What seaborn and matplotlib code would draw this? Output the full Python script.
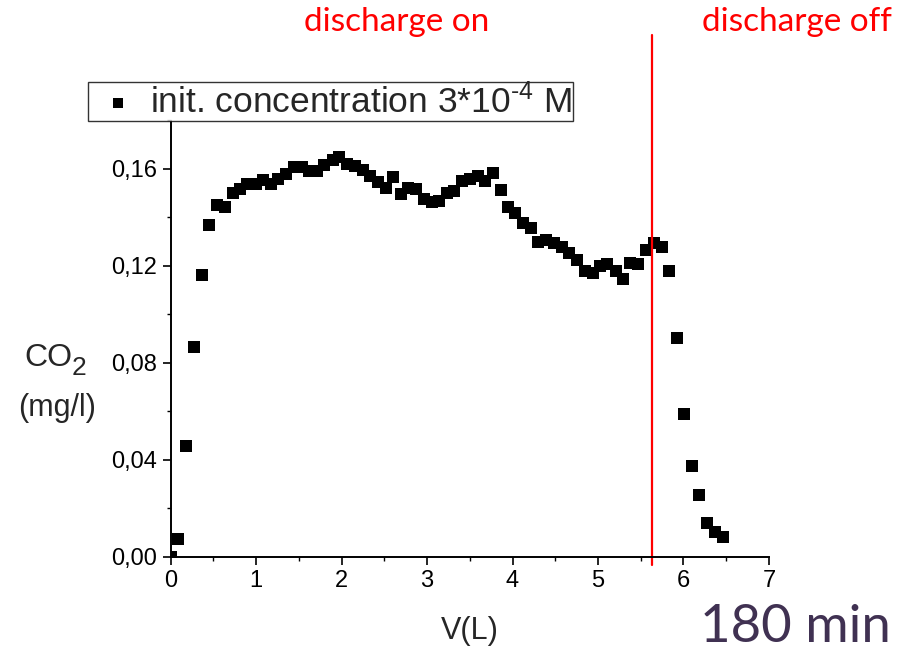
import numpy as np
import pandas as pd
import matplotlib
matplotlib.use("Agg")
import matplotlib.pyplot as plt
from matplotlib.ticker import MultipleLocator, FuncFormatter
import seaborn as sns

# Treated volume (L) and dissolved CO2 (mg/l)
volume = [0.000, 0.088, 0.181, 0.275, 0.365, 0.454, 0.540, 0.637, 0.727, 0.813,
          0.898, 0.996, 1.085, 1.175, 1.261, 1.351, 1.444, 1.535, 1.623, 1.710,
          1.799, 1.897, 1.974, 2.061, 2.158, 2.248, 2.333, 2.423, 2.517, 2.606,
          2.692, 2.781, 2.871, 2.965, 3.055, 3.144, 3.230, 3.319, 3.413, 3.503,
          3.593, 3.678, 3.768, 3.860, 3.951, 4.029, 4.126, 4.216, 4.302, 4.392,
          4.485, 4.575, 4.664, 4.751, 4.848, 4.938, 5.023, 5.109, 5.211, 5.296,
          5.374, 5.471, 5.561, 5.655, 5.745, 5.834, 5.920, 6.009, 6.099, 6.185,
          6.278, 6.368, 6.458]
co2 = [0.0000, 0.0072, 0.0456, 0.0865, 0.1162, 0.1369, 0.1451, 0.1444, 0.1502, 0.1516,
       0.1537, 0.1537, 0.1555, 0.1537, 0.1559, 0.1578, 0.1609, 0.1607, 0.1593, 0.1593,
       0.1616, 0.1637, 0.1651, 0.1621, 0.1612, 0.1596, 0.1571, 0.1548, 0.1520, 0.1566,
       0.1497, 0.1520, 0.1516, 0.1475, 0.1465, 0.1468, 0.1500, 0.1510, 0.1552, 0.1557,
       0.1572, 0.1552, 0.1585, 0.1513, 0.1443, 0.1420, 0.1376, 0.1355, 0.1300, 0.1307,
       0.1293, 0.1277, 0.1252, 0.1224, 0.1180, 0.1172, 0.1199, 0.1208, 0.1180, 0.1145,
       0.1211, 0.1208, 0.1265, 0.1296, 0.1279, 0.1180, 0.0901, 0.0588, 0.0375, 0.0254,
       0.0137, 0.0100, 0.0079]

discharge_off_at = 5.63
series_label = r"init. concentration 3*10$^{\text{-4}}$ M"
x_ticks = [0, 1, 2, 3, 4, 5, 6, 7]
y_ticks = [0.00, 0.04, 0.08, 0.12, 0.16]

sns.set_style("ticks")
plt.rcParams["font.family"] = ["Liberation Sans", "DejaVu Sans"]
plt.rcParams["mathtext.fontset"] = "custom"
plt.rcParams["mathtext.rm"] = "Liberation Sans"
plt.rcParams["mathtext.it"] = "Liberation Sans:italic"
plt.rcParams["mathtext.bf"] = "Liberation Sans:bold"

df = pd.DataFrame({"V": volume, "CO2": co2})

fig = plt.figure(figsize=(9.12, 6.49), dpi=100)
ax = fig.add_axes([170.5 / 912, 1 - 556.5 / 649, (769 - 170.5) / 912, (556.5 - 120.5) / 649])

sns.scatterplot(data=df, x="V", y="CO2", marker="s", s=85, color="black",
                linewidth=0, ax=ax, label=series_label, legend=False)

ax.set_xlim(0, 7)
ax.set_ylim(0, 0.18)
ax.set_xticks(x_ticks)
ax.set_yticks(y_ticks)
ax.xaxis.set_minor_locator(MultipleLocator(0.5))
ax.yaxis.set_minor_locator(MultipleLocator(0.02))
ax.yaxis.set_major_formatter(FuncFormatter(lambda v, p: f"{v:.2f}".replace(".", ",")))
ax.set_xlabel("")
ax.set_ylabel("")

for side in ("top", "right"):
    ax.spines[side].set_visible(False)
for side in ("left", "bottom"):
    ax.spines[side].set_linewidth(1.4)
    ax.spines[side].set_color("black")

ax.tick_params(which="major", direction="out", length=5.5, width=1.2,
               labelsize=17, colors="black", pad=4)
ax.tick_params(which="minor", direction="out", length=3.2, width=1.0, colors="black")

# discharge switch-off marker, extending above the plotting area
ax.axvline(discharge_off_at, ymin=-0.02, ymax=1.196, color="#ff0000",
           linewidth=1.6, clip_on=False)

handles, labels = ax.get_legend_handles_labels()
leg = fig.legend(handles, labels, loc="lower left",
                 bbox_to_anchor=(88 / 912, 1 - 121 / 649), bbox_transform=fig.transFigure,
                 fontsize=25.5, frameon=True, fancybox=False, edgecolor="black",
                 borderpad=0.04, handletextpad=0.1, handlelength=1.6,
                 markerscale=0.85, borderaxespad=0)
leg.get_frame().set_linewidth(1.0)

fig.text(470 / 912, 1 - 631 / 649, "V(L)", ha="center", va="center", fontsize=22)
fig.text(72 / 912, 1 - 358 / 649, "CO", ha="right", va="center", fontsize=23)
fig.text(72 / 912, 1 - 368 / 649, "2", ha="left", va="center", fontsize=19)
fig.text(57 / 912, 1 - 408 / 649, "(mg/l)", ha="center", va="center", fontsize=22)

fig.text(397 / 912, 1 - 22 / 649, "discharge on", ha="center", va="center",
         fontsize=24, color="#ff0000", family=["Lato", "DejaVu Sans"])
fig.text(797 / 912, 1 - 22 / 649, "discharge off", ha="center", va="center",
         fontsize=24, color="#ff0000", family=["Lato", "DejaVu Sans"])
fig.text(795 / 912, 1 - 627 / 649, "180 min", ha="center", va="center",
         fontsize=38, color="#403152", family=["Lato", "DejaVu Sans"])

fig.savefig("out.png", dpi=100)
